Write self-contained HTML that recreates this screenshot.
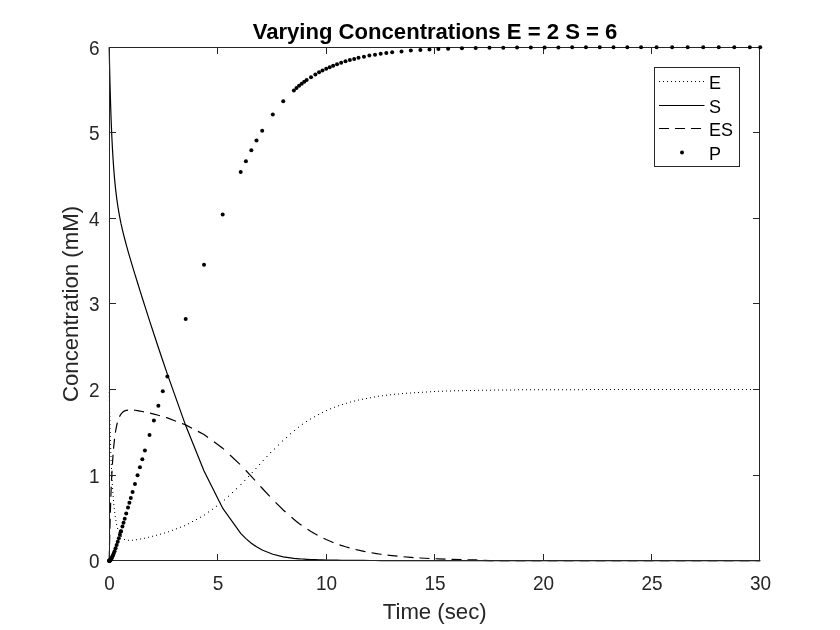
<!DOCTYPE html>
<html lang="en"><head><meta charset="utf-8"><title>Varying Concentrations E = 2 S = 6</title>
<style>html,body{margin:0;padding:0;background:#fff;}body{width:840px;height:630px;overflow:hidden;font-family:"Liberation Sans",Arial,sans-serif;}</style>
</head><body>
<svg width="840" height="630" viewBox="0 0 840 630" style="display:block;font-family:'Liberation Sans',Arial,Helvetica,sans-serif">
<rect width="840" height="630" fill="#fff"/>
<clipPath id="c"><rect x="108" y="46" width="654" height="516"/></clipPath>
<g clip-path="url(#c)" fill="none" stroke="#000" stroke-width="1.2">
<path d="M108.76,392h1v1h-1zM108.84,396h1v1h-1zM108.92,400h1v1h-1zM109.00,404h1v1h-1zM109.09,408h1v1h-1zM109.18,412h1v1h-1zM109.28,416h1v1h-1zM109.37,420h1v1h-1zM109.48,424h1v1h-1zM109.58,428h1v1h-1zM109.69,432h1v1h-1zM109.81,436h1v1h-1zM109.93,440h1v1h-1zM110.06,444h1v1h-1zM110.19,448h1v1h-1zM110.33,452h1v1h-1zM110.48,456h1v1h-1zM110.64,460h1v1h-1zM110.81,464h1v1h-1zM110.98,468h1v1h-1zM111.17,472h1v1h-1zM111.36,476h1v1h-1zM111.59,480h1v1h-1zM111.81,484h1v1h-1zM112.07,488h1v1h-1zM112.34,492h1v1h-1zM112.64,496h1v1h-1zM112.97,500h1v1h-1zM113.33,504h1v1h-1zM113.75,508h1v1h-1zM114.21,512h1v1h-1zM114.76,516h1v1h-1zM115.40,520h1v1h-1zM116.15,524h1v1h-1zM117.16,528h1v1h-1zM118.55,532h1v1h-1zM120.67,536h1v1h-1zM124,538.93h1v1h-1zM128,539.79h1v1h-1zM132,539.69h1v1h-1zM136,539.20h1v1h-1zM140,538.51h1v1h-1zM144,537.72h1v1h-1zM148,536.83h1v1h-1zM152,535.87h1v1h-1zM156,534.84h1v1h-1zM160,533.74h1v1h-1zM164,532.55h1v1h-1zM168,531.21h1v1h-1zM172,529.69h1v1h-1zM176,528.17h1v1h-1zM180,526.65h1v1h-1zM184,525.14h1v1h-1zM188,523.13h1v1h-1zM192,521.01h1v1h-1zM196,518.89h1v1h-1zM200,516.77h1v1h-1zM204,514.47h1v1h-1zM208,511.56h1v1h-1zM212,508.65h1v1h-1zM216,505.74h1v1h-1zM220,502.83h1v1h-1zM224,499.44h1v1h-1zM228,495.69h1v1h-1zM232,491.94h1v1h-1zM236,488.19h1v1h-1zM240.47,484h1v1h-1zM244.30,480h1v1h-1zM248.04,476h1v1h-1zM251.74,472h1v1h-1zM255.40,468h1v1h-1zM259.04,464h1v1h-1zM262.71,460h1v1h-1zM266.44,456h1v1h-1zM270.18,452h1v1h-1zM274,448.43h1v1h-1zM278,444.46h1v1h-1zM282,440.49h1v1h-1zM286,436.89h1v1h-1zM290,433.37h1v1h-1zM294,429.90h1v1h-1zM298,426.76h1v1h-1zM302,423.83h1v1h-1zM306,421.08h1v1h-1zM310,418.53h1v1h-1zM314,416.17h1v1h-1zM318,413.97h1v1h-1zM322,411.93h1v1h-1zM326,410.06h1v1h-1zM330,408.33h1v1h-1zM334,406.75h1v1h-1zM338,405.28h1v1h-1zM342,403.94h1v1h-1zM346,402.70h1v1h-1zM350,401.56h1v1h-1zM354,400.51h1v1h-1zM358,399.55h1v1h-1zM362,398.69h1v1h-1zM366,397.88h1v1h-1zM370,397.14h1v1h-1zM374,396.46h1v1h-1zM378,395.85h1v1h-1zM382,395.28h1v1h-1zM386,394.75h1v1h-1zM390,394.28h1v1h-1zM394,393.85h1v1h-1zM398,393.45h1v1h-1zM402,393.07h1v1h-1zM406,392.74h1v1h-1zM410,392.42h1v1h-1zM414,392.15h1v1h-1zM418,391.88h1v1h-1zM422,391.65h1v1h-1zM426,391.43h1v1h-1zM430,391.22h1v1h-1zM434,391.05h1v1h-1zM438,390.87h1v1h-1zM442,390.73h1v1h-1zM446,390.58h1v1h-1zM450,390.46h1v1h-1zM454,390.35h1v1h-1zM458,390.23h1v1h-1zM462,390.13h1v1h-1zM466,390.04h1v1h-1zM470,389.96h1v1h-1zM474,389.88h1v1h-1zM478,389.81h1v1h-1zM482,389.75h1v1h-1zM486,389.69h1v1h-1zM490,389.63h1v1h-1zM494,389.59h1v1h-1zM498,389.54h1v1h-1zM502,389.50h1v1h-1zM506,389.46h1v1h-1zM510,389.43h1v1h-1zM514,389.40h1v1h-1zM518,389.37h1v1h-1zM522,389.34h1v1h-1zM526,389.32h1v1h-1zM530,389.29h1v1h-1zM534,389.27h1v1h-1zM538,389.25h1v1h-1zM542,389.24h1v1h-1zM546,389.22h1v1h-1zM550,389.21h1v1h-1zM554,389.19h1v1h-1zM558,389.18h1v1h-1zM562,389.17h1v1h-1zM566,389.16h1v1h-1zM570,389.15h1v1h-1zM574,389.14h1v1h-1zM578,389.13h1v1h-1zM582,389.13h1v1h-1zM586,389.12h1v1h-1zM590,389.12h1v1h-1zM594,389.11h1v1h-1zM598,389.10h1v1h-1zM602,389.10h1v1h-1zM606,389.10h1v1h-1zM610,389.09h1v1h-1zM614,389.09h1v1h-1zM618,389.09h1v1h-1zM622,389.08h1v1h-1zM626,389.08h1v1h-1zM630,389.08h1v1h-1zM634,389.07h1v1h-1zM638,389.07h1v1h-1zM642,389.07h1v1h-1zM646,389.07h1v1h-1zM650,389.07h1v1h-1zM654,389.07h1v1h-1zM658,389.06h1v1h-1zM662,389.06h1v1h-1zM666,389.06h1v1h-1zM670,389.06h1v1h-1zM674,389.06h1v1h-1zM678,389.06h1v1h-1zM682,389.06h1v1h-1zM686,389.06h1v1h-1zM690,389.06h1v1h-1zM694,389.06h1v1h-1zM698,389.06h1v1h-1zM702,389.06h1v1h-1zM706,389.06h1v1h-1zM710,389.05h1v1h-1zM714,389.05h1v1h-1zM718,389.05h1v1h-1zM722,389.05h1v1h-1zM726,389.05h1v1h-1zM730,389.05h1v1h-1zM734,389.05h1v1h-1zM738,389.05h1v1h-1zM742,389.05h1v1h-1zM746,389.05h1v1h-1zM750,389.05h1v1h-1zM754,389.05h1v1h-1zM758,389.05h1v1h-1z" fill="#000" stroke="none"/>
<path d="M109.20,47.25 L109.24,49.53 L109.29,52.17 L109.36,55.21 L109.43,58.71 L109.51,62.71 L109.61,67.26 L109.73,72.41 L109.87,78.20 L110.03,84.66 L110.22,91.81 L110.45,99.64 L110.72,108.13 L111.03,117.23 L111.41,126.86 L111.85,136.92 L112.37,147.28 L112.98,157.79 L113.70,168.31 L114.56,178.69 L115.56,188.83 L116.65,197.88 L117.73,205.53 L118.82,212.16 L119.90,218.04 L120.99,223.36 L120.92,223.03 L122.44,229.82 L123.52,234.31 L124.72,239.00 L126.23,244.68 L128.01,251.05 L129.40,255.88 L130.79,260.60 L132.57,266.56 L134.96,274.41 L137.54,282.78 L139.91,290.37 L142.29,297.96 L144.90,306.17 L149.52,320.58 L153.90,334.05 L158.35,347.52 L162.80,360.78 L167.36,374.11 L185.69,425.59 L204.03,471.07 L222.69,508.22 L240.70,533.45 L245.91,538.64 L251.33,543.20 L256.54,546.83 L262.19,550.02 L272.82,554.27 L283.23,556.81 L293.87,558.31 L296.47,558.57 L299.07,558.80 L301.68,558.99 L304.28,559.16 L306.67,559.30 L311.01,559.51 L315.35,559.69 L319.04,559.81 L322.51,559.90 L326.20,559.99 L329.67,560.06 L333.14,560.13 L337.05,560.19 L341.17,560.24 L345.51,560.29 L349.85,560.34 L354.19,560.38 L358.53,560.41 L363.96,560.45 L369.38,560.48 L375.02,560.51 L380.67,560.53 L386.31,560.55 L392.17,560.57 L401.50,560.59 L410.83,560.62 L420.38,560.63 L429.49,560.64 L438.39,560.65 L448.15,560.66 L461.93,560.67 L475.71,560.68 L489.49,560.69 L503.27,560.69 L517.05,560.69 L530.83,560.69 L544.61,560.70 L558.39,560.70 L572.17,560.70 L585.95,560.70 L599.73,560.70 L613.51,560.70 L627.29,560.70 L641.07,560.70 L656.60,560.70 L672.14,560.70 L687.68,560.70 L703.22,560.70 L718.75,560.70 L734.29,560.70 L749.83,560.70 L760.20,560.70"/>
<path d="M109.20,560.70L109.24,558.42L109.29,555.79L109.36,552.75L109.40,550.70M109.52,544.70L109.61,540.79L109.73,535.69L109.75,534.70M109.90,528.70L110.03,523.65L110.17,518.70M110.34,512.70L110.45,509.10L110.66,502.70M110.87,496.70L111.03,492.30L111.26,486.70M111.53,480.70L111.85,474.04L112.03,470.70M112.37,464.70L112.98,455.63L113.06,454.70M113.55,448.70L113.70,446.90L114.56,438.79L114.57,438.70M115.40,432.70L115.56,431.50L116.65,425.68L117.40,422.70M119.51,416.70L119.90,415.85L120.99,414.09L120.92,414.19L122.44,412.44L123.52,411.59L124.72,410.92L126.23,410.37L127.98,410.04M133.98,410.16L134.96,410.26L137.54,410.63L139.91,411.04L142.29,411.48L143.98,411.83M149.98,413.15L153.90,414.10L158.35,415.26L159.98,415.73M165.98,417.51L167.36,417.93L175.98,421.20M181.98,423.47L185.69,424.88L191.98,428.21M197.98,431.39L204.03,434.59L207.98,437.47M213.98,441.83L222.69,448.17L223.98,449.38M229.98,455.00L239.98,464.37M245.75,470.33L245.91,470.49L251.33,476.34L254.98,480.33M260.45,486.33L262.19,488.23L269.75,496.33M275.53,502.31L283.23,509.96L285.53,511.98M291.53,517.26L293.87,519.32L296.47,521.41L299.07,523.41L301.53,525.21M307.53,529.31L311.01,531.52L315.35,534.06L317.53,535.24M323.53,538.29L326.20,539.55L329.67,541.07L333.14,542.48L333.53,542.63M339.53,544.81L341.17,545.38L345.51,546.76L349.53,547.92M355.53,549.48L358.53,550.20L363.96,551.37L365.53,551.67M371.53,552.78L375.02,553.38L380.67,554.23L381.53,554.34M387.53,555.12L392.17,555.67L397.53,556.20M403.53,556.76L410.83,557.36L413.53,557.54M419.53,557.93L420.38,557.99L429.49,558.48L429.53,558.48M435.53,558.75L438.39,558.87L445.53,559.13M451.53,559.32L461.53,559.60M467.53,559.73L475.71,559.90L477.53,560.00M483.53,560.35L489.49,560.70L493.53,560.70M499.53,560.70L503.27,560.70L509.53,560.70M515.53,560.70L517.05,560.70L525.53,560.70M531.53,560.70L541.53,560.70M547.53,560.70L557.53,560.70M563.53,560.70L572.17,560.70L573.53,560.70M579.53,560.70L585.95,560.70L589.53,560.70M595.53,560.70L599.73,560.70L605.53,560.70M611.53,560.70L613.51,560.70L621.53,560.70M627.53,560.70L637.53,560.70M643.53,560.70L653.53,560.70M659.53,560.70L669.53,560.70M675.53,560.70L685.53,560.70M691.53,560.70L701.53,560.70M707.53,560.70L717.53,560.70M723.53,560.70L733.53,560.70M739.53,560.70L749.53,560.70M755.53,560.70L760.20,560.70"/>
</g>
<g stroke="#262626" stroke-width="1" fill="none" shape-rendering="crispEdges">
<rect x="109.5" y="47.5" width="650" height="513.0"/>
<path d="M109.5,560.5v-6.5M109.5,47.5v6.5"/>
<path d="M217.5,560.5v-6.5M217.5,47.5v6.5"/>
<path d="M326.5,560.5v-6.5M326.5,47.5v6.5"/>
<path d="M434.5,560.5v-6.5M434.5,47.5v6.5"/>
<path d="M543.5,560.5v-6.5M543.5,47.5v6.5"/>
<path d="M651.5,560.5v-6.5M651.5,47.5v6.5"/>
<path d="M759.5,560.5v-6.5M759.5,47.5v6.5"/>
<path d="M109.5,560.5h6.5M759.5,560.5h-6.5"/>
<path d="M109.5,475.5h6.5M759.5,475.5h-6.5"/>
<path d="M109.5,389.5h6.5M759.5,389.5h-6.5"/>
<path d="M109.5,303.5h6.5M759.5,303.5h-6.5"/>
<path d="M109.5,218.5h6.5M759.5,218.5h-6.5"/>
<path d="M109.5,132.5h6.5M759.5,132.5h-6.5"/>
<path d="M109.5,47.5h6.5M759.5,47.5h-6.5"/>
</g>
<g fill="#000">
<circle cx="109.20" cy="560.70" r="2"/>
<circle cx="109.24" cy="560.70" r="2"/>
<circle cx="109.29" cy="560.69" r="2"/>
<circle cx="109.36" cy="560.69" r="2"/>
<circle cx="109.43" cy="560.67" r="2"/>
<circle cx="109.51" cy="560.64" r="2"/>
<circle cx="109.61" cy="560.61" r="2"/>
<circle cx="109.73" cy="560.55" r="2"/>
<circle cx="109.87" cy="560.46" r="2"/>
<circle cx="110.03" cy="560.33" r="2"/>
<circle cx="110.22" cy="560.16" r="2"/>
<circle cx="110.45" cy="559.91" r="2"/>
<circle cx="110.72" cy="559.58" r="2"/>
<circle cx="111.03" cy="559.12" r="2"/>
<circle cx="111.41" cy="558.51" r="2"/>
<circle cx="111.85" cy="557.69" r="2"/>
<circle cx="112.37" cy="556.62" r="2"/>
<circle cx="112.98" cy="555.23" r="2"/>
<circle cx="113.70" cy="553.44" r="2"/>
<circle cx="114.56" cy="551.17" r="2"/>
<circle cx="115.56" cy="548.32" r="2"/>
<circle cx="116.65" cy="545.08" r="2"/>
<circle cx="117.73" cy="541.73" r="2"/>
<circle cx="118.82" cy="538.28" r="2"/>
<circle cx="119.90" cy="534.76" r="2"/>
<circle cx="120.99" cy="531.20" r="2"/>
<circle cx="120.92" cy="531.43" r="2"/>
<circle cx="122.44" cy="526.39" r="2"/>
<circle cx="123.52" cy="522.75" r="2"/>
<circle cx="124.72" cy="518.73" r="2"/>
<circle cx="126.23" cy="513.59" r="2"/>
<circle cx="128.01" cy="507.56" r="2"/>
<circle cx="129.40" cy="502.84" r="2"/>
<circle cx="130.79" cy="498.12" r="2"/>
<circle cx="132.57" cy="492.08" r="2"/>
<circle cx="134.96" cy="483.98" r="2"/>
<circle cx="137.54" cy="475.24" r="2"/>
<circle cx="139.91" cy="467.25" r="2"/>
<circle cx="142.29" cy="459.21" r="2"/>
<circle cx="144.90" cy="450.47" r="2"/>
<circle cx="149.52" cy="435.03" r="2"/>
<circle cx="153.90" cy="420.50" r="2"/>
<circle cx="158.35" cy="405.86" r="2"/>
<circle cx="162.80" cy="391.34" r="2"/>
<circle cx="167.36" cy="376.61" r="2"/>
<circle cx="185.69" cy="318.97" r="2"/>
<circle cx="204.03" cy="264.75" r="2"/>
<circle cx="222.69" cy="214.43" r="2"/>
<circle cx="240.70" cy="172.06" r="2"/>
<circle cx="245.91" cy="161.15" r="2"/>
<circle cx="251.33" cy="150.24" r="2"/>
<circle cx="256.54" cy="140.47" r="2"/>
<circle cx="262.19" cy="130.68" r="2"/>
<circle cx="272.82" cy="114.45" r="2"/>
<circle cx="283.23" cy="101.23" r="2"/>
<circle cx="293.87" cy="90.40" r="2"/>
<circle cx="296.47" cy="88.08" r="2"/>
<circle cx="299.07" cy="85.87" r="2"/>
<circle cx="301.68" cy="83.78" r="2"/>
<circle cx="304.28" cy="81.79" r="2"/>
<circle cx="306.67" cy="80.06" r="2"/>
<circle cx="311.01" cy="77.13" r="2"/>
<circle cx="315.35" cy="74.45" r="2"/>
<circle cx="319.04" cy="72.36" r="2"/>
<circle cx="322.51" cy="70.53" r="2"/>
<circle cx="326.20" cy="68.74" r="2"/>
<circle cx="329.67" cy="67.17" r="2"/>
<circle cx="333.14" cy="65.72" r="2"/>
<circle cx="337.05" cy="64.21" r="2"/>
<circle cx="341.17" cy="62.75" r="2"/>
<circle cx="345.51" cy="61.35" r="2"/>
<circle cx="349.85" cy="60.07" r="2"/>
<circle cx="354.19" cy="58.91" r="2"/>
<circle cx="358.53" cy="57.85" r="2"/>
<circle cx="363.96" cy="56.66" r="2"/>
<circle cx="369.38" cy="55.61" r="2"/>
<circle cx="375.02" cy="54.64" r="2"/>
<circle cx="380.67" cy="53.78" r="2"/>
<circle cx="386.31" cy="53.02" r="2"/>
<circle cx="392.17" cy="52.32" r="2"/>
<circle cx="401.50" cy="51.38" r="2"/>
<circle cx="410.83" cy="50.62" r="2"/>
<circle cx="420.38" cy="49.98" r="2"/>
<circle cx="429.49" cy="49.48" r="2"/>
<circle cx="438.39" cy="49.09" r="2"/>
<circle cx="448.15" cy="48.73" r="2"/>
<circle cx="461.93" cy="48.35" r="2"/>
<circle cx="475.71" cy="48.06" r="2"/>
<circle cx="489.49" cy="47.85" r="2"/>
<circle cx="503.27" cy="47.69" r="2"/>
<circle cx="517.05" cy="47.58" r="2"/>
<circle cx="530.83" cy="47.49" r="2"/>
<circle cx="544.61" cy="47.43" r="2"/>
<circle cx="558.39" cy="47.38" r="2"/>
<circle cx="572.17" cy="47.35" r="2"/>
<circle cx="585.95" cy="47.32" r="2"/>
<circle cx="599.73" cy="47.30" r="2"/>
<circle cx="613.51" cy="47.29" r="2"/>
<circle cx="627.29" cy="47.28" r="2"/>
<circle cx="641.07" cy="47.27" r="2"/>
<circle cx="656.60" cy="47.27" r="2"/>
<circle cx="672.14" cy="47.26" r="2"/>
<circle cx="687.68" cy="47.26" r="2"/>
<circle cx="703.22" cy="47.26" r="2"/>
<circle cx="718.75" cy="47.25" r="2"/>
<circle cx="734.29" cy="47.25" r="2"/>
<circle cx="749.83" cy="47.25" r="2"/>
<circle cx="760.20" cy="47.25" r="2"/>
</g>
<g fill="#262626" font-size="20px">
<text transform="translate(109.5,590) scale(0.95,1)" text-anchor="middle">0</text>
<text transform="translate(218.0,590) scale(0.95,1)" text-anchor="middle">5</text>
<text transform="translate(326.5,590) scale(0.95,1)" text-anchor="middle">10</text>
<text transform="translate(435.0,590) scale(0.95,1)" text-anchor="middle">15</text>
<text transform="translate(543.5,590) scale(0.95,1)" text-anchor="middle">20</text>
<text transform="translate(652.0,590) scale(0.95,1)" text-anchor="middle">25</text>
<text transform="translate(760.5,590) scale(0.95,1)" text-anchor="middle">30</text>
<text transform="translate(99.6,568.1) scale(0.95,1)" text-anchor="end">0</text>
<text transform="translate(99.6,482.5) scale(0.95,1)" text-anchor="end">1</text>
<text transform="translate(99.6,397.0) scale(0.95,1)" text-anchor="end">2</text>
<text transform="translate(99.6,311.4) scale(0.95,1)" text-anchor="end">3</text>
<text transform="translate(99.6,225.8) scale(0.95,1)" text-anchor="end">4</text>
<text transform="translate(99.6,140.2) scale(0.95,1)" text-anchor="end">5</text>
<text transform="translate(99.6,54.6) scale(0.95,1)" text-anchor="end">6</text>
</g>
<text x="434.7" y="619.4" text-anchor="middle" font-size="22.2px" fill="#262626">Time (sec)</text>
<text transform="translate(78,304) rotate(-90)" text-anchor="middle" font-size="22.2px" fill="#262626">Concentration (mM)</text>
<text x="435" y="39" text-anchor="middle" font-size="22.1px" font-weight="bold" fill="#000">Varying Concentrations E = 2 S = 6</text>
<rect x="654.5" y="67.5" width="85" height="99" fill="#fff" stroke="#262626" stroke-width="1" shape-rendering="crispEdges"/>
<g stroke="#000" stroke-width="1" fill="none">
<path d="M659,81.0h1v1h-1zM663,81.0h1v1h-1zM667,81.0h1v1h-1zM671,81.0h1v1h-1zM675,81.0h1v1h-1zM679,81.0h1v1h-1zM683,81.0h1v1h-1zM687,81.0h1v1h-1zM691,81.0h1v1h-1zM695,81.0h1v1h-1zM699,81.0h1v1h-1zM703,81.0h1v1h-1z" fill="#000" stroke="none"/>
<path d="M659,105.5H704.5"/>
<path d="M659,128.5H704.5" stroke-dasharray="10 6"/>
</g>
<circle cx="682" cy="152.5" r="2" fill="#000"/>
<g font-size="18px" fill="#000">
<text x="709" y="88.8">E</text>
<text x="709" y="112.8">S</text>
<text x="709" y="135.8">ES</text>
<text x="709" y="159.8">P</text>
</g>
</svg>
</body></html>
